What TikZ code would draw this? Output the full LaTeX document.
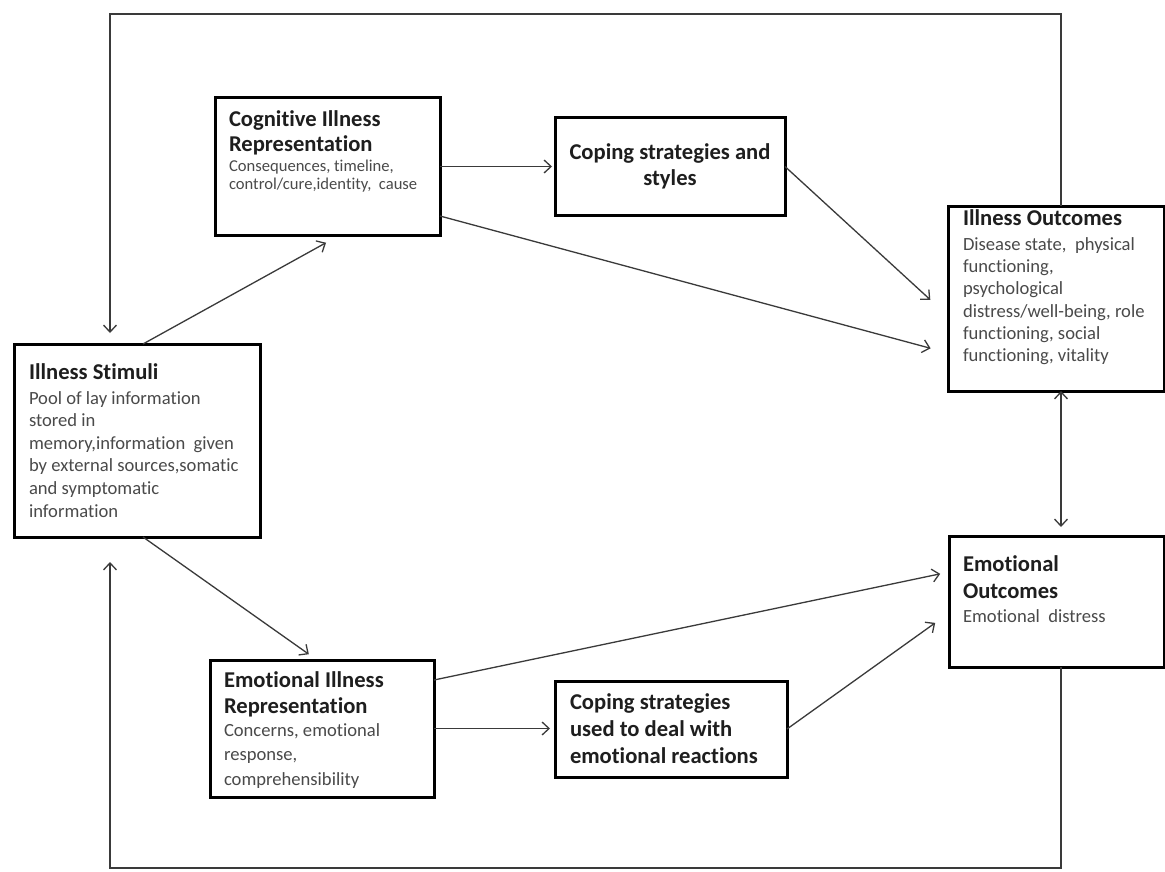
\documentclass[tikz,border=0pt]{standalone}
\usepackage{fontspec}
\setmainfont{Carlito}[Ligatures=CommonOff]
\usetikzlibrary{arrows.meta}
\definecolor{titlec}{HTML}{1E1E1E}
\definecolor{bodyc}{HTML}{4A4A4A}
\definecolor{linec}{HTML}{3A3A3A}
\newcommand{\tfont}[1]{\fontsize{22.6}{#1}\selectfont\bfseries\color{titlec}}
\newcommand{\bfont}[2]{\fontsize{#1}{#2}\selectfont\mdseries\color{bodyc}}
\begin{document}
\begin{tikzpicture}[x=1pt,y=-1pt,
  box/.style={draw=black, line width=3pt, fill=white, inner ysep=0pt, outer sep=0pt, anchor=north west},
  conn/.style={draw=linec, line width=1.3pt, -{Straight Barb[length=7pt,width=13pt]}},
  dconn/.style={draw=linec, line width=1.3pt, {Straight Barb[length=7pt,width=13pt]}-{Straight Barb[length=7pt,width=13pt]}}
]
\useasboundingbox (0,0) rectangle (1165,872);
\fill[white] (0,0) rectangle (1165,872);

% boxes
\node[box, inner xsep=14pt] (cog) at (215,98) {\parbox[t][137pt][t]{197pt}{\raggedright
  \tfont{25}\rule{0pt}{29pt}Cognitive Illness\\Representation\par
  \vspace{2.5pt}\bfont{16.6}{17.5}Consequences, timeline,\\control/cure,identity, \ cause\par}};

\node[box, inner xsep=0pt] (cop1) at (555,118) {\parbox[t][97pt][t]{230pt}{\centering
  \tfont{26}\rule{0pt}{42pt}Coping strategies and\\styles\par}};

\node[box, inner xsep=15pt] (ill) at (948,206) {\parbox[t][185pt][t]{186pt}{\raggedright
  \tfont{25}\rule{0pt}{19pt}Illness Outcomes\par
  \vspace{2.6pt}\bfont{18.6}{22.4}Disease state, \ physical\\functioning,\\psychological\\distress/well-being, role\\functioning, social\\functioning, vitality\par}};

\node[box, inner xsep=15pt] (stim) at (14,344) {\parbox[t][193pt][t]{216pt}{\raggedright
  \tfont{25}\rule{0pt}{35pt}Illness Stimuli\par
  \vspace{2.4pt}\bfont{18.6}{22.6}Pool of lay information\\stored in\\memory,information \ given\\by external sources,somatic\\and symptomatic\\information\par}};

\node[box, inner xsep=14pt] (emo) at (949,536) {\parbox[t][131pt][t]{187pt}{\raggedright
  \tfont{27}\rule{0pt}{35pt}Emotional\\Outcomes\par
  \vspace{2pt}\bfont{18.6}{22}Emotional \ distress\par}};

\node[box, inner xsep=14pt] (emr) at (210,660) {\parbox[t][137pt][t]{196pt}{\raggedright
  \tfont{26}\rule{0pt}{27pt}Emotional Illness\\Representation\par
  \vspace{-1.5pt}\bfont{18.6}{24.5}Concerns, emotional\\response,\\comprehensibility\par}};

\node[box, inner xsep=15pt] (cop2) at (555,681) {\parbox[t][96pt][t]{202pt}{\raggedright
  \tfont{27}\rule{0pt}{28pt}Coping strategies\\used to deal with\\emotional reactions\par}};

% corner points of the feedback loops
\coordinate (tl) at (110,14);
\coordinate (bl) at (110,868);

% connectors
\draw[conn, shorten >=16pt] ([xshift=6pt]stim.north) -- ([xshift=12.5pt]cog.south);
\draw[conn, shorten >=10pt] ([xshift=6pt]stim.south) -- ([xshift=-5pt]emr.north);
\draw[conn, shorten >=3pt] (cog.east) -- (cop1.west);
\draw[conn, shorten >=18pt] ([yshift=19pt]cog.south east) -- ([yshift=-54.5pt]ill.west);
\draw[conn, shorten >=24pt] (cop1.east) -- ([yshift=-17.5pt]ill.west);
\draw[conn, shorten >=9pt] ([yshift=48.5pt]emr.east) -- ([yshift=29.5pt]emo.west);
\draw[conn, shorten >=5pt] (emr.east) -- (emr.east -| cop2.west);
\draw[conn, shorten >=17pt] (cop2.east) -- ([yshift=-11.5pt]emo.west);
\draw[dconn, shorten >=9pt] ([xshift=5pt]ill.south) -- ([xshift=5pt]ill.south |- emo.north);
\draw[conn, shorten >=11pt] ([xshift=5pt]ill.north) |- (tl) -- (tl |- stim.north);
\draw[conn, shorten >=25pt] ([xshift=4.5pt]emo.south) |- (bl) -- (bl |- stim.south);
\end{tikzpicture}
\end{document}
